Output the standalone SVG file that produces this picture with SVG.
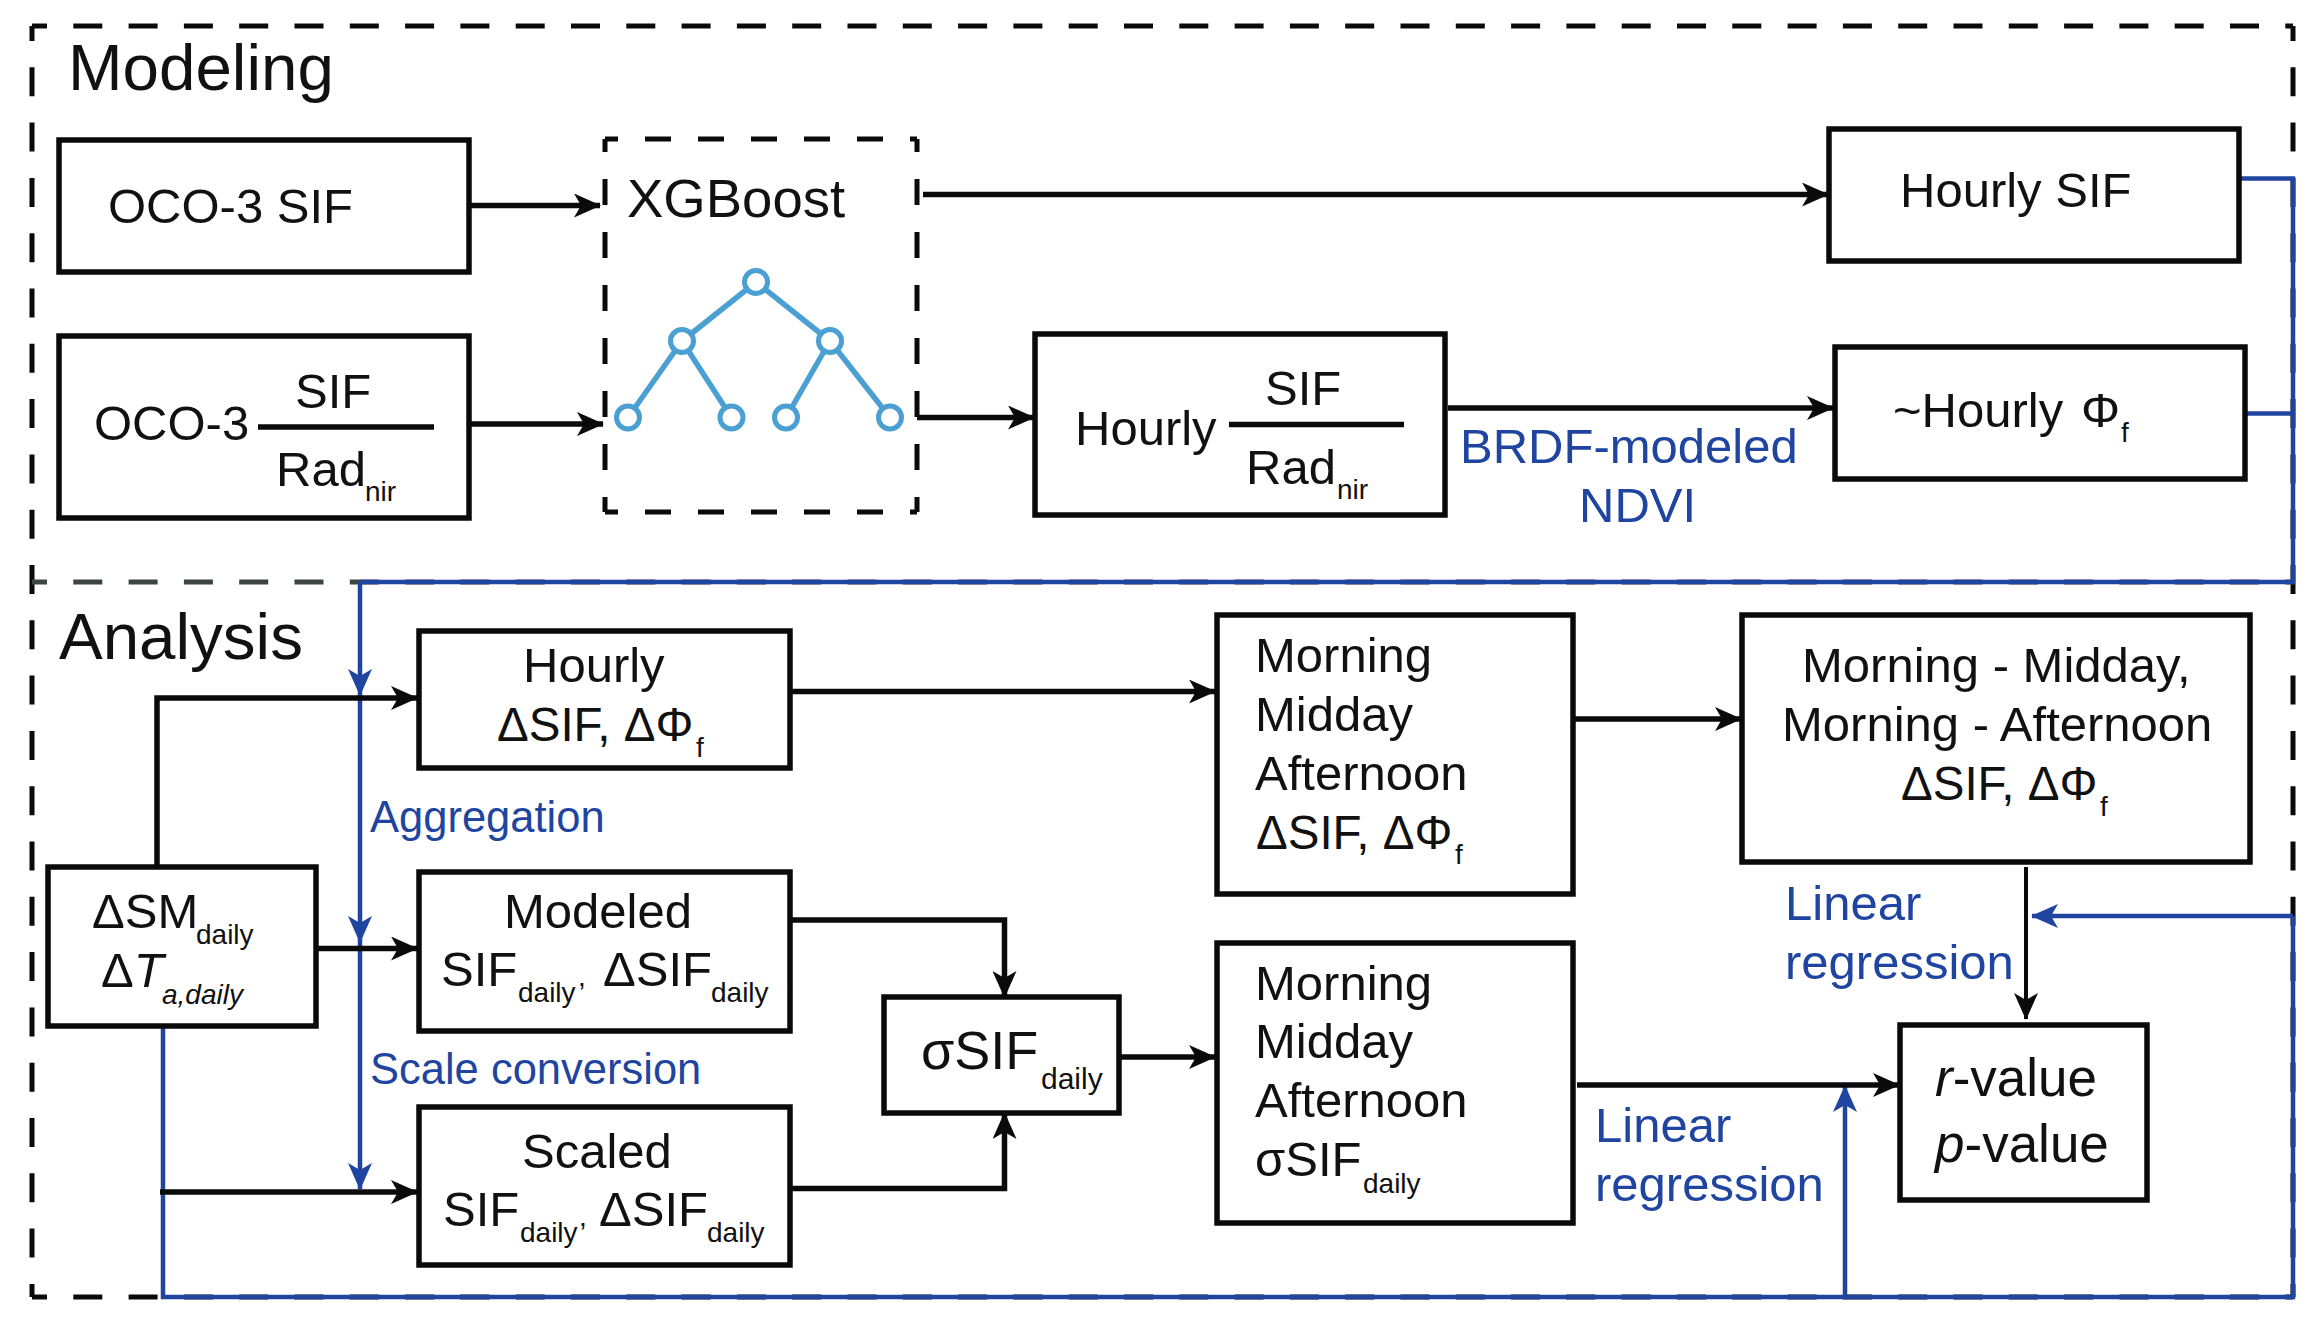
<svg xmlns="http://www.w3.org/2000/svg" width="2322" height="1324" viewBox="0 0 2322 1324">
<style>
text{font-family:"Liberation Sans",Arial,sans-serif;font-size:49px;fill:#111}
.b{fill:#1f45a0}
.h{font-size:65.5px}
.s{font-size:28px}
.i{font-style:italic}
.d{font-size:47.500px}
.v{font-size:53px}
.box{fill:#fff;stroke:#0a0a0a;stroke-width:5.5}
.rule{stroke:#0a0a0a;stroke-width:5.5;fill:none}
.dash{fill:none;stroke:#0a0a0a;stroke-width:5;stroke-dasharray:29 26.300;stroke-dashoffset:14}
.xd{fill:none;stroke:#0a0a0a;stroke-width:5;stroke-dasharray:26 27;stroke-dashoffset:13}
.k{fill:none;stroke:#0a0a0a;stroke-width:5.500;marker-end:url(#ah)}
.u{fill:none;stroke:#1f45a0;stroke-width:4.500}
.ua{fill:none;stroke:#1f45a0;stroke-width:4.500;marker-end:url(#ab)}
.t{stroke:#4ba0d3;stroke-width:5.500;fill:none}
.c{stroke:#4ba0d3;stroke-width:5;fill:#fff}
</style>
<defs>
<marker id="ah" markerUnits="userSpaceOnUse" markerWidth="27" markerHeight="24" refX="26" refY="12" orient="auto" viewBox="0 0 27 24"><path d="M0 0L27 12L0 24L7 12Z" fill="#0a0a0a"/></marker>
<marker id="ab" markerUnits="userSpaceOnUse" markerWidth="27" markerHeight="24" refX="26" refY="12" orient="auto" viewBox="0 0 27 24"><path d="M0 0L27 12L0 24L7 12Z" fill="#1f45a0"/></marker>
</defs>
<rect width="2322" height="1324" fill="#fff"/>
<g id="frames">
<path class="dash" d="M32 26H2293"/>
<path class="dash" d="M32 26V1297"/>
<path class="dash" d="M2293 26V1297"/>
<path class="dash" d="M32 1297H2293"/>
<path class="dash" d="M32 582H2293" style="stroke:#3c4444"/>
<text class="h" x="68" y="90">Modeling</text>
<text class="h" x="59" y="659">Analysis</text>
</g>
<g id="connectors">
<path class="k" d="M469 205.500H600"/>
<path class="k" d="M469 424H603"/>
<path class="k" d="M923 194.500H1828"/>
<path class="k" d="M917 417.500H1034"/>
<path class="k" d="M1448 408H1833"/>
<path class="u" d="M2239 178.500H2293V582H360"/>
<path class="u" d="M2245 413.500H2293"/>
<path class="ua" d="M360 582V695"/>
<path class="ua" d="M360 695V942"/>
<path class="ua" d="M360 942V1189"/>
<path class="u" d="M163 1026V1297H2293V916"/>
<path class="ua" d="M2293 916H2032"/>
<path class="ua" d="M1845 1297V1086"/>
<path class="k" d="M157 866V698H417"/>
<path class="k" d="M316 948.500H417"/>
<path class="k" d="M160 1192H417"/>
<path class="k" d="M790 691.500H1215"/>
<path class="k" d="M790 920H1004.500V997"/>
<path class="k" d="M790 1188.500H1004.500V1113"/>
<path class="k" d="M1119 1057H1215"/>
<path class="k" d="M1573 719H1741"/>
<path class="k" d="M2026 867V1019" style="stroke-width:4"/>
<path class="k" d="M1577 1085H1899"/>
</g>
<g id="xgboost">
<path class="xd" d="M605 139H917"/>
<path class="xd" d="M605 512H917"/>
<path class="xd" d="M605 139V512"/>
<path class="xd" d="M917 139V512"/>
<text x="627" y="217" style="font-size:54.500px">XGBoost</text>
<path class="t" d="M682 341L756 282L830 341M682 341L628 417.500M682 341L731.500 417.500M830 341L786 417.500M830 341L890 417.500"/>
<circle class="c" cx="756" cy="282" r="11.500"/>
<circle class="c" cx="682" cy="341" r="11.500"/>
<circle class="c" cx="830" cy="341" r="11.500"/>
<circle class="c" cx="628" cy="417.500" r="11.500"/>
<circle class="c" cx="731.500" cy="417.500" r="11.500"/>
<circle class="c" cx="786" cy="417.500" r="11.500"/>
<circle class="c" cx="890" cy="417.500" r="11.500"/>
</g>
<g id="oco3-sif">
<rect class="box" x="59" y="140" width="410" height="132"/>
<text x="108" y="223">OCO-3 SIF</text>
</g>
<g id="oco3-ratio">
<rect class="box" x="59" y="336" width="410" height="182"/>
<text x="94" y="440">OCO-3</text>
<text x="295" y="408">SIF</text>
<path class="rule" d="M258 427H434"/>
<text x="276" y="486">Rad<tspan class="s" x="365" y="501">nir</tspan></text>
</g>
<g id="hourly-sif">
<rect class="box" x="1829" y="129" width="410" height="132"/>
<text x="1900" y="207">Hourly SIF</text>
</g>
<g id="hourly-ratio">
<rect class="box" x="1035" y="334" width="410" height="181"/>
<text x="1075" y="445">Hourly</text>
<text x="1265" y="405">SIF</text>
<path class="rule" d="M1229 424.500H1404"/>
<text x="1246" y="484">Rad<tspan class="s" x="1337" y="499">nir</tspan></text>
</g>
<g id="hourly-phi">
<rect class="box" x="1835" y="347" width="410" height="132"/>
<text x="1893" y="427">~Hourly<tspan x="2081" y="427">Φ</tspan><tspan class="s" x="2121" y="442">f</tspan></text>
</g>
<g id="brdf-label">
<text class="b" x="1460" y="463">BRDF-modeled</text>
<text class="b" x="1579" y="522">NDVI</text>
</g>
<g id="delta-sm">
<rect class="box" x="48" y="867" width="268" height="159"/>
<text x="92" y="928">ΔSM<tspan class="s" x="196" y="944">daily</tspan></text>
<text x="101" y="987">Δ<tspan class="i">T</tspan><tspan class="s i" x="162" y="1004">a,daily</tspan></text>
</g>
<g id="hourly-delta">
<rect class="box" x="419" y="631" width="371" height="137"/>
<text x="523" y="682">Hourly</text>
<text class="d" x="497" y="741">ΔSIF, ΔΦ<tspan class="s" x="696" y="757">f</tspan></text>
</g>
<g id="modeled">
<rect class="box" x="419" y="872" width="371" height="159"/>
<text x="504" y="928">Modeled</text>
<text x="441" y="986">SIF<tspan class="s" x="518" y="1002">daily</tspan><tspan class="s" x="578" y="986">,</tspan><tspan x="603" y="986">ΔSIF</tspan><tspan class="s" x="711" y="1002">daily</tspan></text>
</g>
<g id="scaled">
<rect class="box" x="419" y="1107" width="371" height="158"/>
<text x="522" y="1168">Scaled</text>
<text x="443" y="1226">SIF<tspan class="s" x="520" y="1242">daily</tspan><tspan class="s" x="579" y="1226">,</tspan><tspan x="599" y="1226">ΔSIF</tspan><tspan class="s" x="707" y="1242">daily</tspan></text>
</g>
<g id="sigma-sif">
<rect class="box" x="884" y="997" width="235" height="116"/>
<text x="921" y="1069" style="font-size:54px">σSIF<tspan style="font-size:30px" x="1041" y="1089">daily</tspan></text>
</g>
<g id="morning-delta">
<rect class="box" x="1217" y="615" width="356" height="279"/>
<text x="1255" y="672">Morning</text>
<text x="1255" y="731">Midday</text>
<text x="1255" y="790">Afternoon</text>
<text class="d" x="1256" y="849">ΔSIF, ΔΦ<tspan class="s" x="1455" y="864">f</tspan></text>
</g>
<g id="morning-sigma">
<rect class="box" x="1217" y="943" width="356" height="280"/>
<text x="1255" y="1000">Morning</text>
<text x="1255" y="1058">Midday</text>
<text x="1255" y="1117">Afternoon</text>
<text x="1255" y="1176">σSIF<tspan class="s" x="1363" y="1193">daily</tspan></text>
</g>
<g id="morning-diff">
<rect class="box" x="1742" y="615" width="508" height="247"/>
<text x="1802" y="682">Morning - Midday,</text>
<text x="1782" y="741">Morning - Afternoon</text>
<text class="d" x="1901" y="800">ΔSIF, ΔΦ<tspan class="s" x="2100" y="816">f</tspan></text>
</g>
<g id="r-p-value">
<rect class="box" x="1900" y="1025" width="247" height="175"/>
<text class="v" x="1935" y="1096"><tspan class="i">r</tspan>-value</text>
<text class="v" x="1935" y="1162"><tspan class="i">p</tspan>-value</text>
</g>
<g id="labels">
<text class="b" x="370" y="832" style="font-size:43.500px">Aggregation</text>
<text class="b" x="370" y="1084" style="font-size:43.500px">Scale conversion</text>
<text class="b" x="1785" y="920">Linear</text>
<text class="b" x="1785" y="979">regression</text>
<text class="b" x="1595" y="1142">Linear</text>
<text class="b" x="1595" y="1201">regression</text>
</g>
</svg>
